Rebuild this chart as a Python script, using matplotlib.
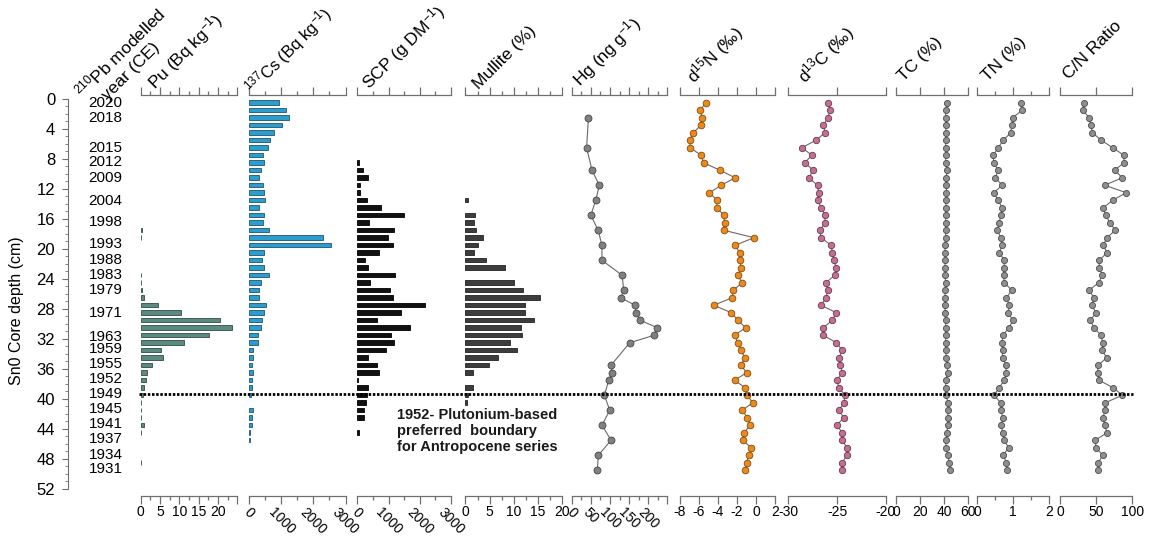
import numpy as np
import matplotlib
matplotlib.use("Agg")
import matplotlib.pyplot as plt
from matplotlib import transforms
from matplotlib.lines import Line2D
from matplotlib.ticker import FixedLocator

plt.rcParams["font.family"] = ["Liberation Sans", "DejaVu Sans"]
plt.rcParams["mathtext.fontset"] = "custom"
plt.rcParams["mathtext.rm"] = "Liberation Sans"
plt.rcParams["mathtext.it"] = "Liberation Sans:italic"
plt.rcParams["mathtext.bf"] = "Liberation Sans:bold"
plt.rcParams["mathtext.default"] = "regular"

# ---- core Sn0 data (depth in cm) ----
years = ["2020", "2018", "2015", "2012", "2009", "2004", "1998", "1993", "1988",
         "1983", "1979", "1971", "1963", "1959", "1955", "1952", "1949", "1945",
         "1941", "1937", "1934", "1931"]
year_depth = [0.5, 2.6, 6.5, 8.4, 10.5, 13.6, 16.4, 19.4, 21.5, 23.5, 25.5, 28.5,
              31.7, 33.4, 35.4, 37.3, 39.4, 41.4, 43.4, 45.4, 47.5, 49.4]

pu_depth = [17.5, 18.5, 23.5, 24.5, 25.5, 26.5, 27.5, 28.5, 29.5, 30.5, 31.5, 32.5,
            33.5, 34.5, 35.5, 36.5, 37.5, 38.5, 39.5, 40.5, 41.5, 42.5, 43.5, 44.5, 48.5]
pu = [0.4, 0.1, 0.1, 0.1, 0.4, 0.8, 4.6, 10.5, 20.6, 23.6, 17.7, 11.1,
      5.2, 5.7, 3.0, 1.6, 1.5, 0.8, 0.7, 0.1, 0.1, 0.1, 0.8, 0.1, 0.1]

cs_depth = [d + 0.5 for d in range(40)] + [41.5, 42.5, 43.5, 44.5, 45.5]
cs = [940, 1140, 1250, 1010, 780, 660, 585, 430, 460, 355, 290, 430, 460, 500, 290,
      460, 430, 625, 2300, 2540, 460, 385, 460, 625, 355, 290, 290, 510, 460, 400,
      355, 270, 270, 105, 105, 75, 105, 75, 75, 40, 105, 75, 75, 10, 10]

scp_depth = [d + 0.5 for d in range(8, 43)] + [44.5]
scp = [50, 180, 340, 75, 75, 295, 770, 1495, 370, 1170, 980, 1140, 695, 250, 340,
       1210, 410, 1050, 1140, 2180, 1410, 640, 1695, 1085, 1170, 925, 340, 640, 695,
       10, 340, 295, 275, 210, 210, 50]

mullite_depth = [13.5, 15.5, 16.5, 17.5, 18.5, 19.5, 20.5, 21.5, 22.5, 24.5, 25.5,
                 26.5, 27.5, 28.5, 29.5, 30.5, 31.5, 32.5, 33.5, 34.5, 35.5, 36.5,
                 38.5, 39.5, 40.5]
mullite = [0.6, 2.0, 1.7, 2.1, 3.6, 2.7, 1.7, 4.3, 8.2, 10.1, 11.9, 15.3, 12.2, 12.4,
           14.2, 11.4, 11.7, 9.3, 10.7, 6.7, 4.9, 1.5, 1.5, 0.5, 0.3]

hg_depth = [2.5, 6.5, 9.5, 11.5, 13.5, 15.5, 17.5, 19.5, 21.5, 23.5, 25.5, 26.5, 27.5,
            28.5, 29.5, 30.5, 31.5, 32.5, 35.5, 36.5, 37.5, 39.5, 41.5, 43.5, 45.5,
            47.5, 49.5]
hg = [43.6, 39, 53, 72, 63, 50, 69, 79, 79, 131.5, 136, 128, 165.5, 168, 178.6, 224,
      216, 151.6, 102.8, 105.4, 96.7, 85.4, 99.3, 79.3, 102.8, 69.7, 67]

geo_depth = [d + 0.5 for d in range(50)]
d15n = [-5.3, -5.86, -5.68, -5.8, -6.6, -7.0, -6.9, -5.8, -5.5, -3.8, -2.2, -3.65,
        -4.9, -4.1, -4.1, -3.4, -3.3, -3.4, -0.2, -2.2, -1.7, -1.7, -1.55, -1.9,
        -1.45, -2.4, -2.5, -4.45, -2.6, -1.9, -1.1, -2.25, -1.9, -1.55, -1.2, -1.55,
        -1.0, -2.25, -1.15, -0.9, -0.35, -1.45, -0.9, -0.6, -1.25, -1.4, -0.5, -0.75,
        -1.0, -1.15]
d13c = [-25.92, -25.72, -25.92, -26.4, -26.23, -27.16, -28.6, -27.57, -28.32, -27.43,
        -27.9, -27.0, -26.88, -27.0, -26.64, -26.23, -26.23, -26.75, -26.64, -25.6,
        -25.48, -25.34, -25.07, -25.24, -26.13, -25.96, -26.13, -26.64, -25.07,
        -25.48, -26.4, -26.4, -25.07, -24.45, -24.8, -24.66, -24.45, -25.03, -24.8,
        -24.18, -24.28, -24.8, -24.3, -25.03, -24.45, -24.45, -24.0, -24.0, -24.45,
        -24.45]
tc = [42.3, 41.2, 41.2, 41.8, 41.2, 41.2, 41.2, 41.2, 41.2, 42.3, 41.8, 41.8, 41.8,
      41.8, 41.2, 41.2, 41.2, 41.2, 41.2, 40.7, 40.7, 40.7, 40.7, 40.7, 41.2, 40.7,
      40.7, 40.7, 40.7, 41.2, 41.2, 41.2, 41.2, 41.2, 41.8, 42.3, 42.9, 41.2, 41.2,
      41.2, 43.4, 43.4, 42.9, 42.9, 42.3, 41.8, 41.2, 42.9, 44.3, 44.8]
tn = [1.21, 1.25, 0.98, 0.96, 0.93, 0.72, 0.58, 0.44, 0.46, 0.58, 0.5, 0.69, 0.46,
      0.58, 0.69, 0.65, 0.61, 0.56, 0.65, 0.69, 0.61, 0.75, 0.75, 0.73, 0.75, 0.96,
      0.81, 0.89, 0.86, 0.98, 0.89, 0.70, 0.69, 0.70, 0.70, 0.80, 0.80, 0.75, 0.61,
      0.46, 0.65, 0.67, 0.70, 0.67, 0.70, 0.75, 0.87, 0.72, 0.81, 0.83]
cn = [33.2, 31.3, 40.6, 42.9, 44.7, 57.1, 72.8, 88.5, 88.5, 75.6, 86.2, 61.8, 91.7,
      72.8, 59.9, 63.1, 69.1, 76.5, 65, 59.9, 65, 54.4, 54.4, 58.5, 53.5, 40.1, 47,
      43.8, 49.8, 41.9, 47, 56.7, 59, 58.5, 64.5, 53, 52, 53.9, 73.7, 86.2, 62.7,
      61.8, 59.9, 61.8, 65, 48.8, 49.8, 59, 53, 53]

boundary_depth = 39.4

# ---- layout (pixels) ----
W, H = 1155, 536
TOP_PX, BOT_PX = 95, 495.5
DEPTH_TOP, DEPTH_BOT = -0.53, 52.87
AXIS_GREY = "#6f6f6f"

fig = plt.figure(figsize=(W / 100, H / 100), dpi=100)


def add_panel(x0, x1):
    ax = fig.add_axes([x0 / W, 1 - BOT_PX / H, (x1 - x0) / W, (BOT_PX - TOP_PX) / H])
    ax.set_ylim(DEPTH_BOT, DEPTH_TOP)
    ax.patch.set_alpha(0)
    for s in ("left", "right"):
        ax.spines[s].set_visible(False)
    for s in ("top", "bottom"):
        ax.spines[s].set_color(AXIS_GREY)
        ax.spines[s].set_linewidth(0.9)
    ax.set_yticks([])
    ax.tick_params(axis="x", which="both", top=True, bottom=True, direction="out",
                   color=AXIS_GREY, width=0.9, labelsize=10, pad=1.5)
    ax.tick_params(axis="x", which="major", length=5.5)
    ax.tick_params(axis="x", which="minor", length=3)
    return ax


def set_scale(ax, lo, hi, major, minor=None, labels=None, rot=0):
    ax.set_xlim(lo, hi)
    n = int(round((hi - lo) / major))
    ticks = np.linspace(lo, hi, n + 1)
    ax.xaxis.set_major_locator(FixedLocator(ticks))
    if minor:
        m = int(round((hi - lo) / minor))
        ax.xaxis.set_minor_locator(FixedLocator(np.linspace(lo, hi, m + 1)))
    if labels is None:
        labels = ["%g" % t for t in ticks]
    ax.set_xticklabels(labels, rotation=rot)


def bars(ax, depth, vals, face, edge):
    ax.barh(depth, vals, height=0.6, left=0, color=face, edgecolor=edge,
            linewidth=0.6, zorder=3)


def profile(ax, depth, vals, face, edge, ms=4.6):
    ax.plot(vals, depth, "-", color="#6a6a6a", lw=0.8, zorder=2)
    ax.plot(vals, depth, "o", ms=ms, mfc=face, mec=edge, mew=0.6, zorder=3)


# depth axis
ax0 = fig.add_axes([67.7 / W, 1 - BOT_PX / H, 40 / W, (BOT_PX - TOP_PX) / H])
ax0.set_ylim(DEPTH_BOT, DEPTH_TOP)
ax0.patch.set_alpha(0)
for s in ("top", "right", "bottom"):
    ax0.spines[s].set_visible(False)
ax0.spines["left"].set_bounds(0, 52)
ax0.spines["left"].set_color(AXIS_GREY)
ax0.set_xticks([])
ax0.yaxis.set_major_locator(FixedLocator(np.arange(0, 53, 4)))
ax0.yaxis.set_minor_locator(FixedLocator(np.arange(0, 53, 1)))
ax0.tick_params(axis="y", which="major", length=4.5, color=AXIS_GREY, labelsize=12, pad=4.5)
ax0.tick_params(axis="y", which="minor", length=2.2, color=AXIS_GREY)
fig.text(17 / W, 1 - 311 / H, "Sn0 Core depth (cm)", rotation=90, ha="center",
         va="center", fontsize=11.5)

yr_tr = transforms.blended_transform_factory(fig.transFigure, ax0.transData)
for yr, d in zip(years, year_depth):
    fig.text(122.7 / W, d, yr, transform=yr_tr, ha="right", va="center", fontsize=11)

# Pu
ax = add_panel(140.7, 237.3)
set_scale(ax, 0, 25, 5, 2.5, labels=["0", "5", "10", "15", "20", ""])
bars(ax, pu_depth, pu, "#5b8b80", "#2e4d46")

# 137Cs
ax = add_panel(249.3, 345.5)
set_scale(ax, 0, 3000, 1000, 500, rot=-45)
bars(ax, cs_depth, cs, "#2c9dcc", "#1c5570")

# SCP
ax = add_panel(357.3, 451)
set_scale(ax, 0, 3000, 1000, 500, rot=-45)
bars(ax, scp_depth, scp, "#111111", "#000000")

# Mullite
ax = add_panel(465.4, 562.3)
set_scale(ax, 0, 20, 5, 2.5)
bars(ax, mullite_depth, mullite, "#3d3d3d", "#222222")

# Hg
ax = add_panel(571.7, 667.4)
set_scale(ax, 0, 250, 50, 25, labels=["0", "50", "100", "150", "200", ""], rot=-45)
profile(ax, hg_depth, hg, "#808080", "#474747", ms=5)

# d15N
ax = add_panel(680, 775)
set_scale(ax, -8, 2, 2)
profile(ax, geo_depth, d15n, "#e88a1d", "#8a4a05", ms=4.8)

# d13C
ax = add_panel(788.3, 885.7)
set_scale(ax, -30, -20, 5)
profile(ax, geo_depth, d13c, "#c46f90", "#6e3550", ms=4.6)

# TC
ax = add_panel(896, 968.3)
set_scale(ax, 0, 60, 20)
profile(ax, geo_depth, tc, "#8f8f8f", "#4a4a4a", ms=4.4)

# TN
ax = add_panel(977.3, 1049.3)
set_scale(ax, 0, 2, 1, 0.5)
profile(ax, geo_depth, tn, "#8f8f8f", "#4a4a4a", ms=4.4)

# C/N
ax = add_panel(1060, 1132.3)
set_scale(ax, 0, 100, 50)
profile(ax, geo_depth, cn, "#8f8f8f", "#4a4a4a", ms=4.4)

# rotated column headers
headers = [
    (83, 99, r"$^{210}$Pb modelled", 12.5),
    (108, 101, "year (CE)", 12.5),
    (155, 90, r"Pu (Bq kg$^{-1}$)", 12.5),
    (253, 95, r"$^{137}$Cs (Bq kg$^{-1}$)", 12),
    (369, 90, r"SCP (g DM$^{-1}$)", 12.5),
    (479, 90, "Mullite (%)", 12.5),
    (580, 87, r"Hg (ng g$^{-1}$)", 12.5),
    (694, 84, r"d$^{15}$N (‰)", 12.5),
    (805, 84, r"d$^{13}$C (‰)", 12.5),
    (904, 82, "TC (%)", 12.5),
    (988, 82, "TN (%)", 12.5),
    (1069, 80, "C/N Ratio", 12.5),
]
for x, y, s, fs in headers:
    fig.text(x / W, 1 - y / H, s, rotation=45, rotation_mode="anchor", ha="left",
             va="baseline", fontsize=fs)

# 1952 boundary
bd_tr = transforms.blended_transform_factory(fig.transFigure, ax0.transData)
fig.add_artist(Line2D([139 / W, 1133 / W], [boundary_depth, boundary_depth],
                      transform=bd_tr, color="black", lw=2.0,
                      linestyle=(0, (0.9, 0.6)), dash_capstyle="butt", zorder=10))
fig.text(397 / W, 1 - 408 / H,
         "1952- Plutonium-based\npreferred  boundary\nfor Antropocene series",
         ha="left", va="top", fontsize=10.5, fontweight="bold", linespacing=1.2,
         color="#1a1a1a")

fig.savefig("out.png", dpi=100)
